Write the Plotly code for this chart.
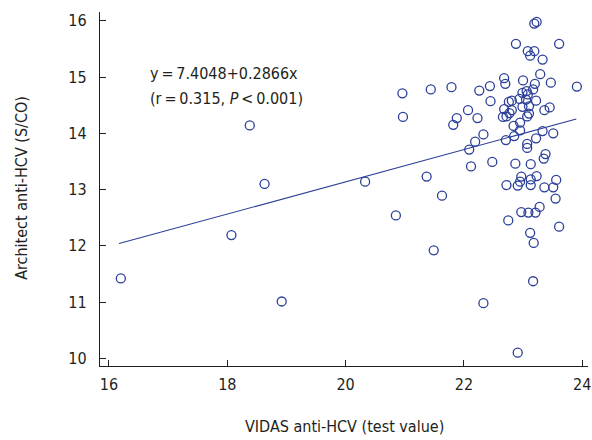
import plotly.graph_objects as go

# VIDAS anti-HCV (test value) vs Architect anti-HCV (S/CO)
vidas = [
    16.20, 18.38, 18.63, 18.07, 18.92,
    23.19, 23.23, 22.88, 23.61, 23.08, 23.19, 23.12, 23.33, 23.29, 22.68,
    22.70, 23.00, 23.20, 23.47, 23.91, 20.96, 21.44, 21.79, 22.26, 22.44,
    22.99, 23.06, 23.08, 23.17, 22.45, 22.94, 23.05, 23.22, 22.76, 22.81,
    22.07, 22.68, 22.81, 22.77, 22.72, 22.66, 22.99, 23.10, 23.36, 23.45,
    20.97, 21.88, 21.82, 22.23, 23.07, 23.10, 22.84, 22.95, 22.95, 23.33,
    23.51, 22.33, 22.19, 22.71, 22.85, 23.22, 23.07, 23.07, 22.09, 23.38,
    23.35, 22.12, 22.48, 22.87, 23.13, 20.33, 21.37, 22.72, 22.97, 22.95,
    22.91, 23.23, 23.13, 23.13, 23.36, 23.51, 23.56, 23.55, 21.63, 20.85,
    22.97, 23.09, 23.21, 23.28, 22.75, 23.61, 23.12, 23.18, 21.49, 23.17,
    22.33, 22.91,
]
architect = [
    11.42, 14.14, 13.10, 12.19, 11.01,
    15.95, 15.98, 15.59, 15.59, 15.46, 15.46, 15.38, 15.31, 15.05, 14.98,
    14.88, 14.94, 14.88, 14.90, 14.83, 14.71, 14.78, 14.82, 14.76, 14.84,
    14.72, 14.75, 14.69, 14.78, 14.57, 14.61, 14.60, 14.58, 14.56, 14.58,
    14.41, 14.43, 14.41, 14.36, 14.30, 14.29, 14.47, 14.48, 14.41, 14.46,
    14.29, 14.27, 14.15, 14.27, 14.30, 14.35, 14.13, 14.19, 14.05, 14.04,
    14.00, 13.98, 13.85, 13.88, 13.95, 13.91, 13.81, 13.74, 13.71, 13.63,
    13.55, 13.41, 13.49, 13.46, 13.45, 13.14, 13.23, 13.08, 13.23, 13.14,
    13.07, 13.24, 13.18, 13.08, 13.04, 13.04, 13.17, 12.84, 12.89, 12.54,
    12.60, 12.59, 12.59, 12.69, 12.45, 12.34, 12.23, 12.05, 11.92, 11.37,
    10.98, 10.10,
]

intercept = 7.4048
slope = 0.2866
fit_x = [16.17, 23.90]
fit_y = [intercept + slope * v for v in fit_x]

x_ticks = [16, 18, 20, 22, 24]
y_ticks = [10, 11, 12, 13, 14, 15, 16]

BLUE = "#2a3f98"
TEXT = "#231f20"
FONT = "DejaVu Sans Condensed, Liberation Sans Narrow, sans-serif"
FS = 16

fig = go.Figure()
fig.add_trace(go.Scatter(
    x=fit_x, y=fit_y, mode="lines",
    line=dict(color=BLUE, width=1.1), showlegend=False, hoverinfo="skip",
))
fig.add_trace(go.Scatter(
    x=vidas, y=architect, mode="markers",
    marker=dict(symbol="circle-open", size=9, color=BLUE, line=dict(width=1.3, color=BLUE)),
    showlegend=False,
))

fig.add_annotation(
    x=16.66, y=15.06, xref="x", yref="y", xanchor="left", yanchor="middle",
    text="y\u2009=\u20097.4048+0.2866x", showarrow=False,
    font=dict(family=FONT, size=FS, color=TEXT),
)
fig.add_annotation(
    x=16.66, y=14.61, xref="x", yref="y", xanchor="left", yanchor="middle",
    text="(r\u2009=\u20090.315, <i>P</i>\u2009&lt;\u20090.001)", showarrow=False,
    font=dict(family=FONT, size=FS, color=TEXT),
)
# axis titles
fig.add_annotation(
    x=0.502, y=-0.172, xref="paper", yref="paper", xanchor="center", yanchor="middle",
    text="VIDAS anti-HCV (test value)", showarrow=False,
    font=dict(family=FONT, size=FS, color=TEXT),
)
fig.add_annotation(
    x=-0.160, y=0.503, xref="paper", yref="paper", xanchor="center", yanchor="middle",
    text="Architect anti-HCV (S/CO)", showarrow=False, textangle=-90,
    font=dict(family=FONT, size=FS, color=TEXT),
)

axis_common = dict(
    showgrid=False, zeroline=False, showline=True, linecolor="#231f20", linewidth=1.3,
    ticks="inside", ticklen=6, tickwidth=1.3, tickcolor="#231f20",
    tickfont=dict(family=FONT, size=FS, color=TEXT),
    mirror=False, automargin=False,
)

fig.update_layout(
    width=592, height=440,
    margin=dict(l=100, r=4, t=12, b=74),
    paper_bgcolor="white", plot_bgcolor="white",
    xaxis=dict(
        range=[15.848, 24.098], tickvals=x_ticks, ticktext=[str(v) for v in x_ticks],
        ticklabelstandoff=4,
        **axis_common,
    ),
    yaxis=dict(
        range=[9.863, 16.156], tickvals=y_ticks, ticktext=[str(v) for v in y_ticks],
        ticklabelstandoff=9,
        **axis_common,
    ),
)

fig.write_html(
    "out.html",
    config={"displayModeBar": False},
    post_script="document.body.style.margin='0';document.body.style.padding='0';document.body.style.overflow='hidden';",
)
